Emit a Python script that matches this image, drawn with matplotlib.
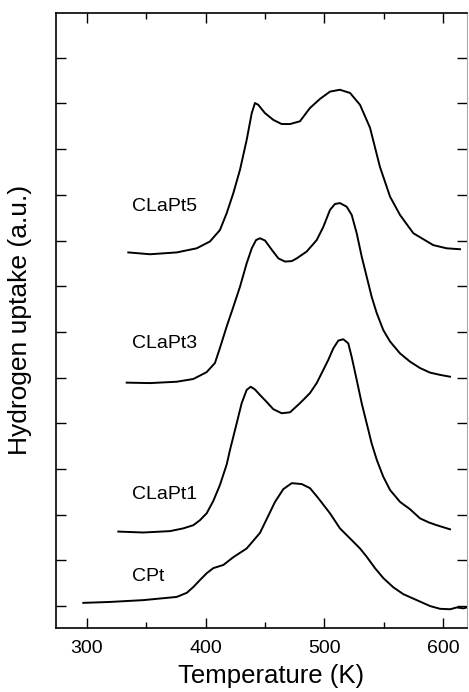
import matplotlib
matplotlib.use("Agg")
import matplotlib.pyplot as plt
from matplotlib.ticker import MultipleLocator

plt.rcParams['font.family'] = ['Liberation Sans', 'DejaVu Sans']

# Temperature (K) / hydrogen uptake (a.u., offset traces)
cpt_T = [296.9, 319.4, 347.5, 375.6, 384.1, 389.7, 395.2, 400.9, 406.4, 414.9, 423.3,
         434.5, 445.7, 451.3, 458.4, 465.4, 472.5, 480.9, 487.9, 494.9, 504.7, 513.1,
         521.6, 530.0, 535.6, 542.6, 549.7, 558.1, 566.5, 577.8, 589.0, 597.4, 605.9,
         611.5, 617.1, 620.0]
cpt_v = [0.07, 0.09, 0.13, 0.20, 0.29, 0.42, 0.57, 0.72, 0.83, 0.90, 1.07,
         1.26, 1.60, 1.90, 2.28, 2.56, 2.69, 2.67, 2.58, 2.36, 2.03, 1.70,
         1.48, 1.26, 1.08, 0.83, 0.61, 0.41, 0.26, 0.13, 0.00, -0.06, -0.07,
         -0.03, -0.05, -0.03]

clapt1_T = [326.4, 347.4, 369.9, 381.1, 389.6, 395.2, 400.8, 406.4, 412.0, 417.7,
            420.5, 426.1, 430.3, 434.5, 437.9, 441.5, 445.7, 451.3, 456.9, 464.0,
            471.0, 479.4, 487.8, 493.5, 499.1, 503.3, 507.5, 511.7, 515.9, 520.1,
            523.0, 527.2, 531.4, 535.6, 539.8, 544.1, 549.6, 555.3, 563.7, 572.1,
            580.5, 588.0, 594.6, 605.8]
clapt1_v = [1.63, 1.61, 1.64, 1.70, 1.77, 1.88, 2.03, 2.30, 2.65, 3.10,
            3.42, 4.00, 4.44, 4.73, 4.80, 4.74, 4.62, 4.47, 4.31, 4.22,
            4.24, 4.44, 4.66, 4.88, 5.17, 5.39, 5.64, 5.81, 5.84, 5.75,
            5.45, 4.95, 4.44, 4.00, 3.56, 3.20, 2.83, 2.54, 2.28, 2.12,
            1.92, 1.83, 1.77, 1.68]

clapt3_T = [333.4, 353.1, 375.6, 389.6, 400.8, 407.8, 412.0, 417.7, 423.3, 428.9,
            434.5, 438.8, 442.4, 445.7, 450.0, 455.6, 461.2, 466.8, 472.5, 476.7,
            485.1, 493.5, 499.1, 504.7, 508.9, 513.1, 518.8, 523.0, 527.2, 531.4,
            535.6, 539.8, 544.1, 549.6, 555.3, 563.7, 572.1, 580.5, 588.9, 597.4,
            605.8]
clapt3_v = [4.89, 4.88, 4.91, 4.97, 5.12, 5.32, 5.65, 6.12, 6.55, 6.99,
            7.50, 7.83, 8.01, 8.05, 8.00, 7.80, 7.61, 7.54, 7.55, 7.61,
            7.76, 8.01, 8.30, 8.67, 8.80, 8.82, 8.74, 8.56, 8.16, 7.65,
            7.21, 6.77, 6.41, 6.04, 5.79, 5.53, 5.35, 5.21, 5.11, 5.06,
            5.02]

clapt5_T = [334.8, 353.1, 375.6, 392.4, 403.6, 412.0, 417.7, 423.3, 428.9, 434.5,
            438.8, 441.5, 444.3, 449.9, 457.0, 464.0, 471.0, 479.4, 487.8, 496.3,
            504.7, 513.1, 521.6, 530.0, 538.4, 546.8, 555.3, 563.7, 574.9, 591.7,
            603.0, 614.2]
clapt5_v = [7.74, 7.70, 7.74, 7.83, 7.98, 8.23, 8.60, 9.04, 9.55, 10.20,
            10.79, 11.01, 10.97, 10.79, 10.64, 10.55, 10.55, 10.61, 10.90, 11.10,
            11.26, 11.30, 11.23, 10.97, 10.47, 9.61, 8.96, 8.56, 8.16, 7.90,
            7.83, 7.81]

labels = ["CPt", "CLaPt1", "CLaPt3", "CLaPt5"]
label_T = [337.9, 337.9, 337.9, 337.9]
label_v = [0.64, 2.45, 5.74, 8.74]

fig = plt.figure(figsize=(4.69, 6.92), dpi=100)
ax = fig.add_axes([0.1194, 0.0925, 0.8763, 0.8887])

for T, v in [(cpt_T, cpt_v), (clapt1_T, clapt1_v), (clapt3_T, clapt3_v), (clapt5_T, clapt5_v)]:
    ax.plot(T, v, color='black', lw=1.4, solid_joinstyle='round')

for s, t, v in zip(labels, label_T, label_v):
    ax.text(t, v, s, fontsize=14, ha='left', va='center')

ax.set_xlim(273.9, 620.1)
ax.set_ylim(-0.48, 12.98)
ax.xaxis.set_major_locator(MultipleLocator(100))
ax.xaxis.set_minor_locator(MultipleLocator(50))
ax.yaxis.set_major_locator(MultipleLocator(1))
ax.tick_params(axis='both', which='major', direction='in', top=True, right=True,
               length=7, width=1, labelsize=14, colors='black', pad=9)
ax.tick_params(axis='x', which='minor', direction='in', top=True, length=4, width=1)
ax.tick_params(axis='y', labelleft=False)
for sp in ['left', 'bottom', 'top']:
    ax.spines[sp].set_linewidth(1.2)
ax.spines['right'].set_color('#aaaaaa')
ax.spines['right'].set_linewidth(0.8)

fig.text(271 / 469, 1 - 676 / 692, 'Temperature (K)', fontsize=18.5, ha='center', va='center')
fig.text(20 / 469, 1 - 320 / 692, 'Hydrogen uptake (a.u.)', fontsize=19, ha='center', va='center',
         rotation=90)

fig.savefig('out.png', dpi=100)
